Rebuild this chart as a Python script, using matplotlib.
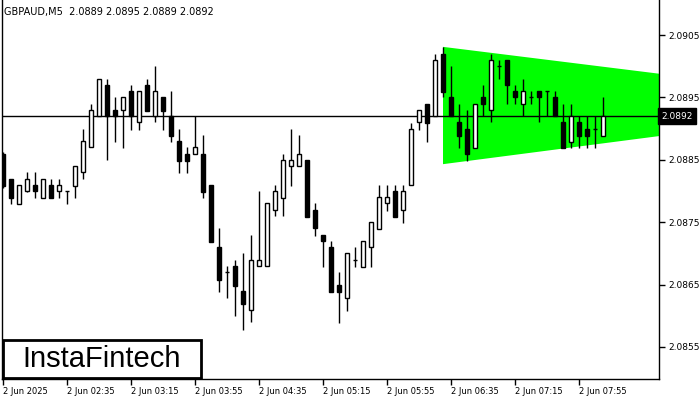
import matplotlib
matplotlib.use("Agg")
import matplotlib.pyplot as plt
from matplotlib.patches import Polygon, Rectangle

# GBPAUD M5 candles
opens = [2.08859, 2.08819, 2.08779, 2.08800, 2.08810, 2.08789, 2.08810, 2.08800, 2.08800, 2.08808,
         2.08830, 2.08871, 2.08920, 2.08970, 2.08930, 2.08930, 2.08960, 2.08911, 2.08970, 2.08920,
         2.08951, 2.08920, 2.08880, 2.08859, 2.08859, 2.08859, 2.08810, 2.08710, 2.08670, 2.08680,
         2.08640, 2.08609, 2.08680, 2.08680, 2.08770, 2.08789, 2.08840, 2.08840, 2.08850, 2.08770,
         2.08730, 2.08710, 2.08649, 2.08629, 2.08689, 2.08678, 2.08710, 2.08739, 2.08781, 2.08800,
         2.08770, 2.08810, 2.08911, 2.08939, 2.08920, 2.09020, 2.08951, 2.08911, 2.08899, 2.08869,
         2.08951, 2.08930, 2.09000, 2.09010, 2.08960, 2.08939, 2.08951, 2.08960, 2.08960, 2.08951,
         2.08911, 2.08879, 2.08911, 2.08899, 2.08899, 2.08888]
highs = [2.08862, 2.08819, 2.08810, 2.08830, 2.08830, 2.08819, 2.08819, 2.08819, 2.08800, 2.08840,
         2.08899, 2.08939, 2.08980, 2.08980, 2.08951, 2.08951, 2.08970, 2.08960, 2.08980, 2.09000,
         2.08951, 2.08960, 2.08899, 2.08871, 2.08920, 2.08890, 2.08810, 2.08741, 2.08680, 2.08689,
         2.08701, 2.08730, 2.08800, 2.08781, 2.08810, 2.08859, 2.08899, 2.08890, 2.08850, 2.08781,
         2.08730, 2.08720, 2.08670, 2.08701, 2.08710, 2.08720, 2.08750, 2.08810, 2.08810, 2.08810,
         2.08810, 2.08909, 2.08930, 2.08939, 2.09020, 2.09031, 2.09000, 2.08939, 2.08930, 2.08939,
         2.08970, 2.09020, 2.09010, 2.09010, 2.08970, 2.08980, 2.08960, 2.08960, 2.08960, 2.08960,
         2.08939, 2.08939, 2.08920, 2.08920, 2.08920, 2.08951]
lows = [2.08805, 2.08779, 2.08779, 2.08798, 2.08789, 2.08789, 2.08789, 2.08789, 2.08779, 2.08789,
        2.08819, 2.08871, 2.08920, 2.08850, 2.08879, 2.08869, 2.08898, 2.08898, 2.08928, 2.08911,
        2.08898, 2.08879, 2.08829, 2.08829, 2.08859, 2.08789, 2.08718, 2.08638, 2.08629, 2.08600,
        2.08577, 2.08590, 2.08680, 2.08680, 2.08760, 2.08760, 2.08808, 2.08840, 2.08758, 2.08728,
        2.08678, 2.08638, 2.08588, 2.08608, 2.08678, 2.08678, 2.08678, 2.08739, 2.08768, 2.08758,
        2.08749, 2.08810, 2.08898, 2.08879, 2.08920, 2.08951, 2.08920, 2.08869, 2.08848, 2.08869,
        2.08920, 2.08911, 2.08980, 2.08939, 2.08939, 2.08920, 2.08939, 2.08911, 2.08920, 2.08920,
        2.08869, 2.08869, 2.08869, 2.08869, 2.08869, 2.08888]
closes = [2.08808, 2.08789, 2.08810, 2.08819, 2.08800, 2.08819, 2.08789, 2.08810, 2.08800, 2.08840,
          2.08880, 2.08930, 2.08980, 2.08920, 2.08920, 2.08951, 2.08920, 2.08960, 2.08928, 2.08960,
          2.08928, 2.08888, 2.08848, 2.08848, 2.08871, 2.08798, 2.08718, 2.08657, 2.08670, 2.08648,
          2.08619, 2.08689, 2.08689, 2.08781, 2.08800, 2.08850, 2.08850, 2.08859, 2.08758, 2.08741,
          2.08720, 2.08638, 2.08638, 2.08701, 2.08689, 2.08720, 2.08750, 2.08790, 2.08790, 2.08758,
          2.08800, 2.08899, 2.08930, 2.08909, 2.09010, 2.08959, 2.08920, 2.08888, 2.08859, 2.08939,
          2.08939, 2.09010, 2.09000, 2.08970, 2.08951, 2.08960, 2.08951, 2.08951, 2.08960, 2.08920,
          2.08869, 2.08920, 2.08888, 2.08888, 2.08899, 2.08920]

tick_labels = ["2 Jun 2025", "2 Jun 02:35", "2 Jun 03:15", "2 Jun 03:55", "2 Jun 04:35",
               "2 Jun 05:15", "2 Jun 05:55", "2 Jun 06:35", "2 Jun 07:15", "2 Jun 07:55"]
price_ticks = [2.0855, 2.0865, 2.0875, 2.0885, 2.0895, 2.0905]
last_price = 2.0892

# symmetrical triangle (bar index, price)
tri_start, tri_end = 55, 82
tri_top = [2.09031, 2.08988]
tri_bottom = [2.08843, 2.08888]

small = ["Liberation Sans Narrow", "DejaVu Sans"]

fig = plt.figure(figsize=(7, 4), dpi=100)
ax = fig.add_axes([2 / 700, 21 / 400, 657 / 700, 379 / 400])
ax.set_xlim(-0.125, 82)
ax.set_ylim(2.084987, 2.091061)

# green triangle
tri = Polygon([(tri_start, tri_top[0]), (tri_end, tri_top[1]),
               (tri_end, tri_bottom[1]), (tri_start, tri_bottom[0])],
              closed=True, facecolor="#00ff00", edgecolor="none", zorder=1)
ax.add_patch(tri)

# current price line
ax.axhline(last_price, color="black", lw=1, zorder=1.5)

# candles
w = 0.6
for i in range(len(opens)):
    o, h, l, c = opens[i], highs[i], lows[i], closes[i]
    ax.vlines(i, l, h, color="black", lw=1, zorder=2)
    if abs(c - o) < 1e-6:
        ax.hlines(o, i - w / 2, i + w / 2, color="black", lw=1, zorder=3)
    else:
        fc = "white" if c > o else "black"
        ax.bar(i, abs(c - o), bottom=min(o, c), width=w, color=fc,
               edgecolor="black", linewidth=1, zorder=3)

# axes styling
ax.spines["top"].set_visible(False)
for s in ["left", "right", "bottom"]:
    ax.spines[s].set_linewidth(1)

ax.set_xticks(range(0, 80, 8))
ax.set_xticklabels(tick_labels, fontsize=6, family=small, ha="left")
ax.tick_params(axis="x", length=4, width=1, pad=2)

ax.yaxis.tick_right()
ax.set_yticks(price_ticks)
ax.set_yticklabels([f"{p:.4f}" for p in price_ticks], fontsize=6.5, family=small)
ax.tick_params(axis="y", length=4, width=1, pad=3)

# price label on the scale
ax.text(1.004, last_price, f"{last_price:.4f}", transform=ax.get_yaxis_transform(),
        fontsize=6.5, family=small, color="white", va="center", ha="left",
        bbox=dict(boxstyle="square,pad=0.35", facecolor="black", edgecolor="black"),
        zorder=5)

# header
fig.text(4 / 700, 1 - 12 / 400, "GBPAUD,M5  2.0889 2.0895 2.0889 2.0892",
         fontsize=7, family=small, color="black", va="center", ha="left")

# logo box
fig.patches.append(Rectangle((3 / 700, 22 / 400), 198 / 700, 38 / 400,
                             transform=fig.transFigure, facecolor="white",
                             edgecolor="black", linewidth=2, zorder=10))
fig.text(102 / 700, 41 / 400, "InstaFintech", fontsize=21, family="Liberation Sans",
         color="black", ha="center", va="center", zorder=11)

fig.savefig("out.png", dpi=100)
